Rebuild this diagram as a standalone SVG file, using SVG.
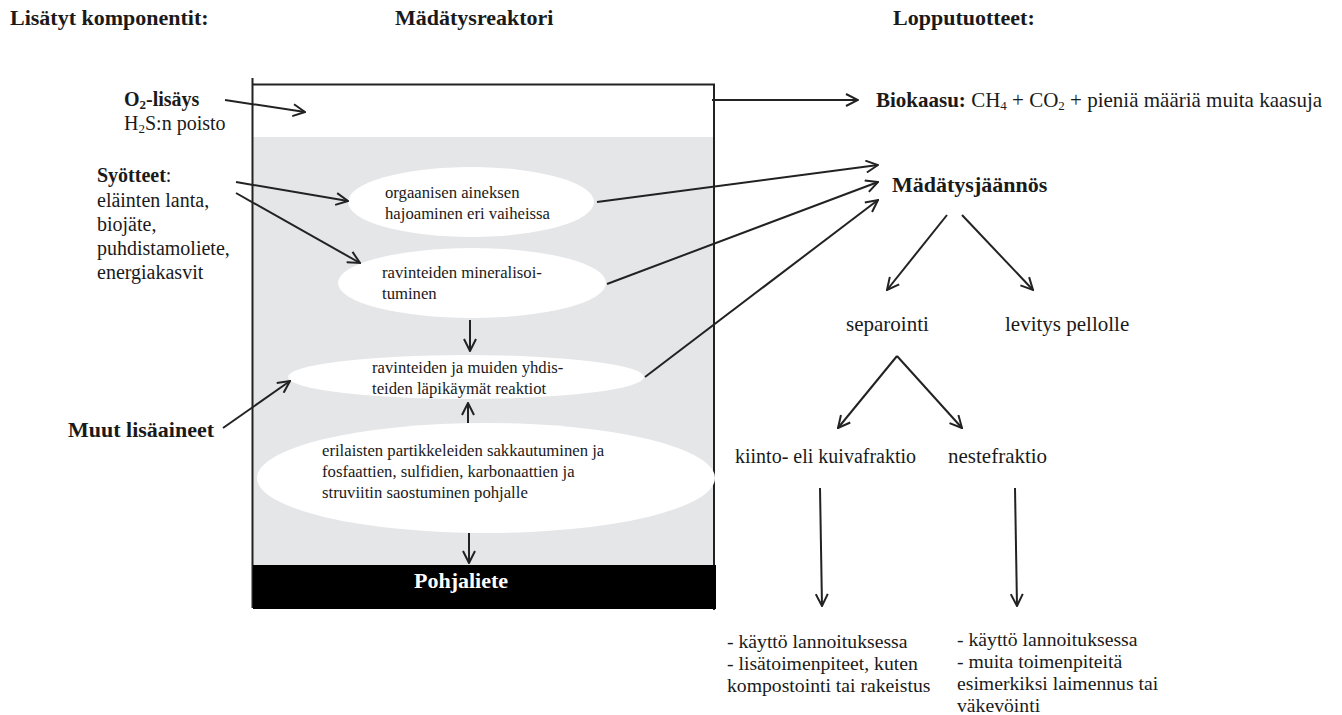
<svg xmlns="http://www.w3.org/2000/svg" width="1342" height="715" viewBox="0 0 1342 715">
<style>
text{font-family:"Liberation Serif","Times New Roman",serif;fill:#1a1a1a}
.h{font-weight:bold;font-size:22px}
.l{font-size:20px}
.b{font-weight:bold}
.e{font-size:16.7px}
.r{font-size:21px}
.s{font-size:19.7px}
.c{stroke:#222;stroke-width:2;fill:none}
.el{fill:#fff}
</style>
<defs>
<marker id="a" markerUnits="userSpaceOnUse" markerWidth="14" markerHeight="14" viewBox="0 0 14 14" refX="13" refY="7" orient="auto">
<path d="M1,1 L13,7 L1,13" fill="none" stroke="#222" stroke-width="2"/>
</marker>
</defs>
<g id="headers">
<text class="h" x="10" y="25">Lisätyt komponentit:</text>
<text class="h" x="395" y="25">Mädätysreaktori</text>
<text class="h" x="893" y="25">Lopputuotteet:</text>
</g>
<g id="reactor">
<rect x="253" y="137" width="462" height="428" fill="#e5e6e8"/>
<path d="M252.5,78 V608 M252,84.5 H714 V610" fill="none" stroke="#222" stroke-width="2"/>
<rect x="253" y="565" width="463" height="44" fill="#000"/>
<text class="b" x="461" y="588" text-anchor="middle" font-size="22" style="fill:#fff">Pohjaliete</text>
</g>
<g id="e1"><ellipse class="el" cx="471" cy="202" rx="123" ry="35"/>
<text class="e" x="385" y="198">orgaanisen aineksen</text>
<text class="e" x="385" y="219">hajoaminen eri vaiheissa</text></g>
<g id="e2"><ellipse class="el" cx="472" cy="283" rx="134" ry="35"/>
<text class="e" x="382" y="278">ravinteiden mineralisoi-</text>
<text class="e" x="382" y="299">tuminen</text></g>
<g id="e3"><ellipse class="el" cx="466" cy="377" rx="178" ry="22"/>
<text class="e" x="372" y="373">ravinteiden ja muiden yhdis-</text>
<text class="e" x="372" y="394">teiden läpikäymät reaktiot</text></g>
<g id="e4"><ellipse class="el" cx="486" cy="478" rx="229" ry="55"/>
<text class="e" x="322" y="456">erilaisten partikkeleiden sakkautuminen ja</text>
<text class="e" x="322" y="477">fosfaattien, sulfidien, karbonaattien ja</text>
<text class="e" x="322" y="498">struviitin saostuminen pohjalle</text></g>
<g id="o2">
<text class="l" x="124" y="106"><tspan class="b">O<tspan font-size="13" dy="3">2</tspan><tspan dy="-3">-lisäys</tspan></tspan></text>
<text class="l" x="124" y="130">H<tspan font-size="13" dy="3">2</tspan><tspan dy="-3">S:n poisto</tspan></text>
</g>
<g id="syotteet">
<text class="l" x="97" y="182"><tspan class="b">Syötteet</tspan>:</text>
<text class="l" x="97" y="207">eläinten lanta,</text>
<text class="l" x="97" y="231">biojäte,</text>
<text class="l" x="97" y="255">puhdistamoliete,</text>
<text class="l" x="97" y="279">energiakasvit</text>
</g>
<g id="muut"><text class="h" x="68" y="437">Muut lisäaineet</text></g>
<g id="biokaasu"><text class="r" x="876" y="107"><tspan class="b">Biokaasu:</tspan> CH<tspan font-size="13" dy="3">4</tspan><tspan dy="-3"> + CO</tspan><tspan font-size="13" dy="3">2</tspan><tspan dy="-3"> + pieniä määriä muita kaasuja</tspan></text></g>
<g id="madatysjaannos"><text class="h" x="892" y="192">Mädätysjäännös</text></g>
<g id="separointi"><text class="r" x="846" y="331">separointi</text></g>
<g id="levitys"><text class="r" x="1005" y="331">levitys pellolle</text></g>
<g id="kiinto"><text class="l" x="735" y="463">kiinto-  eli kuivafraktio</text></g>
<g id="neste"><text class="r" x="948" y="463">nestefraktio</text></g>
<g id="kiinto-use">
<text class="s" x="727" y="648">- käyttö lannoituksessa</text>
<text class="s" x="727" y="670">- lisätoimenpiteet, kuten</text>
<text class="s" x="727" y="692">kompostointi tai rakeistus</text>
</g>
<g id="neste-use">
<text class="s" x="957" y="646">- käyttö lannoituksessa</text>
<text class="s" x="957" y="668">- muita toimenpiteitä</text>
<text class="s" x="957" y="690">esimerkiksi laimennus tai</text>
<text class="s" x="957" y="712">väkevöinti</text>
</g>
<g id="connectors" class="c" marker-end="url(#a)">
<line x1="225" y1="100" x2="305" y2="112" marker-end="url(#a)"/>
<line x1="712" y1="100" x2="858" y2="100" marker-end="url(#a)"/>
<line x1="236" y1="182" x2="348" y2="201" marker-end="url(#a)"/>
<line x1="236" y1="193" x2="360" y2="263" marker-end="url(#a)"/>
<line x1="223" y1="428" x2="290" y2="381" marker-end="url(#a)"/>
<line x1="470" y1="320" x2="470" y2="351" marker-end="url(#a)"/>
<line x1="468" y1="423" x2="468" y2="403" marker-end="url(#a)"/>
<line x1="469" y1="533" x2="469" y2="563" marker-end="url(#a)"/>
<line x1="597" y1="202" x2="878" y2="165" marker-end="url(#a)"/>
<line x1="607" y1="284" x2="878" y2="182" marker-end="url(#a)"/>
<line x1="645" y1="377" x2="878" y2="200" marker-end="url(#a)"/>
<line x1="947" y1="215" x2="887" y2="290" marker-end="url(#a)"/>
<line x1="962" y1="215" x2="1033" y2="290" marker-end="url(#a)"/>
<line x1="897" y1="356" x2="838" y2="428" marker-end="url(#a)"/>
<line x1="897" y1="356" x2="962" y2="428" marker-end="url(#a)"/>
<line x1="820" y1="488" x2="822" y2="606" marker-end="url(#a)"/>
<line x1="1015" y1="488" x2="1017" y2="606" marker-end="url(#a)"/>
</g>
</svg>
